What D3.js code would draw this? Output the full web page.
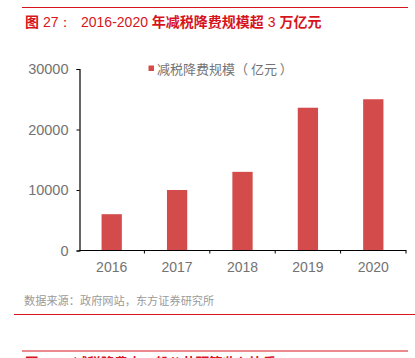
<!DOCTYPE html>
<html>
<head>
<meta charset="utf-8">
<script src="https://cdn.jsdelivr.net/npm/d3@7"></script>
<style>
  html, body { margin: 0; padding: 0; background: #fff; }
  svg { display: block; font-family: "Liberation Sans", "Noto Sans CJK SC", sans-serif; }
</style>
</head>
<body>
<svg id="chart"></svg>
<script>
'use strict';

var years = ['2016', '2017', '2018', '2019', '2020'];
var cutValues = [6000, 10000, 13000, 23600, 25000];
var yTicks = [0, 10000, 20000, 30000];
var seriesName = '减税降费规模（ 亿元 ）';
// title pieces: [text, bold]
var titleParts = [['图', true], [' 27：', false], ['2016-2020 ', false], ['年减税降费规模超', true], [' 3 ', false], ['万亿元', true]];
var sourceText = '数据来源：政府网站，东方证券研究所';
var nextTitleText = '图 28：  减税降费占一般公共预算收入比重';

var width = 415;
var height = 358;
var red = '#d7141c';
var barColor = '#d34b4b';
var grey = '#737373';

var svg = d3.select('#chart')
  .attr('width', width)
  .attr('height', height);

// header rule + title
svg.append('line')
  .attr('x1', 22).attr('x2', 408)
  .attr('y1', 7.5).attr('y2', 7.5)
  .attr('stroke', red).attr('stroke-width', 1);

var title = svg.append('text')
  .attr('x', 25).attr('y', 27)
  .attr('fill', red)
  .attr('font-size', '14px');

title.selectAll('tspan')
  .data(titleParts)
  .enter()
  .append('tspan')
  .attr('x', function(d, i) { return i === 2 ? 81 : null; })
  .attr('font-weight', function(d) { return d[1] ? 'bold' : 'normal'; })
  .style('font-family', function(d) { return d[1] ? '"Noto Sans CJK SC", sans-serif' : '"Liberation Sans", sans-serif'; })
  .text(function(d) { return d[0]; });

var x = d3.scaleBand()
  .domain(years)
  .range([79, 406])
  .paddingInner(0.69)
  .paddingOuter(0.345);

var y = d3.scaleLinear()
  .domain([0, 30000])
  .range([250.5, 69]);

// bars
svg.append('g')
  .selectAll('rect')
  .data(years)
  .enter()
  .append('rect')
  .attr('x', function(d) { return x(d); })
  .attr('width', x.bandwidth())
  .attr('y', function(d, i) { return y(cutValues[i]); })
  .attr('height', function(d, i) { return y(0) - y(cutValues[i]); })
  .attr('fill', barColor);

// y axis
var yAxis = d3.axisLeft(y)
  .tickValues(yTicks)
  .tickSize(3)
  .tickPadding(8)
  .tickFormat(d3.format('d'));

var yAxisEl = svg.append('g')
  .attr('transform', 'translate(79.5,0)')
  .call(yAxis);

yAxisEl.select('.domain').attr('stroke', '#000').attr('stroke-width', 1.2);
yAxisEl.selectAll('.tick line').attr('stroke', '#000');
yAxisEl.selectAll('text')
  .attr('fill', grey)
  .attr('font-size', '14.5px')
  .style('font-family', '"Liberation Sans", sans-serif');

// x axis: ticks on band boundaries
var xLine = svg.append('g').attr('transform', 'translate(0,250.5)');
xLine.append('line')
  .attr('x1', 79).attr('x2', 406.5)
  .attr('stroke', '#000').attr('stroke-width', 1.2);

var step = x.step();
var boundaries = years.map(function(d) { return x(d) - x.paddingOuter() * step + step; });
xLine.selectAll('line.tk')
  .data(boundaries)
  .enter()
  .append('line')
  .attr('class', 'tk')
  .attr('x1', function(d) { return d; })
  .attr('x2', function(d) { return d; })
  .attr('y1', 0).attr('y2', 3)
  .attr('stroke', '#000');

xLine.selectAll('text')
  .data(years)
  .enter()
  .append('text')
  .attr('x', function(d) { return x(d) + x.bandwidth() / 2; })
  .attr('y', 21)
  .attr('text-anchor', 'middle')
  .attr('fill', grey)
  .attr('font-size', '14px')
  .style('font-family', '"Liberation Sans", sans-serif')
  .text(function(d) { return d; });

// legend
svg.append('rect')
  .attr('x', 148.5).attr('y', 65.5)
  .attr('width', 5.5).attr('height', 5.5)
  .attr('fill', barColor);

svg.append('text')
  .attr('x', 157).attr('y', 73.5)
  .attr('fill', grey)
  .attr('font-size', '13px')
  .style('font-family', '"Noto Sans CJK SC", sans-serif')
  .style('white-space', 'pre')
  .text(seriesName);

// source + rules
svg.append('text')
  .attr('x', 24).attr('y', 305)
  .attr('fill', '#9a9a9a')
  .attr('font-size', '11.2px')
  .style('font-family', '"Noto Sans CJK SC", sans-serif')
  .text(sourceText);

svg.append('line')
  .attr('x1', 14).attr('x2', 415)
  .attr('y1', 314.5).attr('y2', 314.5)
  .attr('stroke', red).attr('stroke-width', 1);

svg.append('line')
  .attr('x1', 22).attr('x2', 408)
  .attr('y1', 351).attr('y2', 351)
  .attr('stroke', red).attr('stroke-width', 1);

// next figure's title, cut off by the bottom edge as in the page crop
svg.append('text')
  .attr('x', 25).attr('y', 368)
  .attr('fill', red)
  .attr('font-size', '13.5px')
  .attr('font-weight', 'bold')
  .style('font-family', '"Noto Sans CJK SC", sans-serif')
  .text(nextTitleText);
</script>
</body>
</html>
